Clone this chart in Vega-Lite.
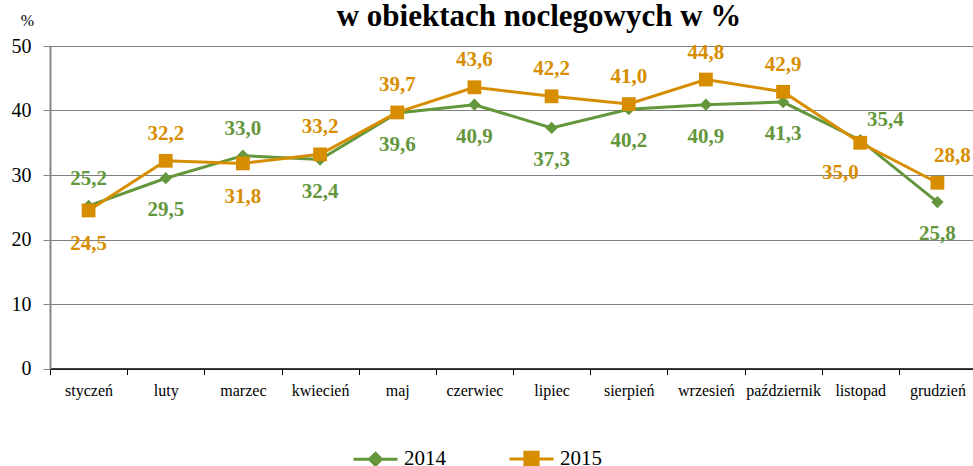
{
  "$schema": "https://vega.github.io/schema/vega-lite/v6.json",
  "autosize": "none",
  "width": 926,
  "height": 322.5,
  "padding": {"left": 50, "top": 46, "right": 0, "bottom": 98},
  "background": "white",
  "config": {
    "locale": {"number": {"decimal": ",", "thousands": " ", "grouping": [3], "currency": ["", " zł"]}},
    "view": {"stroke": null},
    "font": "Liberation Serif, DejaVu Serif, serif"
  },
  "title": {
    "text": "w obiektach noclegowych w %",
    "font": "Liberation Serif, DejaVu Serif, serif",
    "fontSize": 31,
    "fontWeight": "bold",
    "color": "#000000",
    "anchor": "middle",
    "frame": "group",
    "baseline": "alphabetic",
    "dx": 26,
    "offset": -45
  },
  "data": {
    "values": [
      {"month": "styczeń", "year": "2014", "value": 25.2},
      {"month": "luty", "year": "2014", "value": 29.5},
      {"month": "marzec", "year": "2014", "value": 33.0},
      {"month": "kwiecień", "year": "2014", "value": 32.4},
      {"month": "maj", "year": "2014", "value": 39.6},
      {"month": "czerwiec", "year": "2014", "value": 40.9},
      {"month": "lipiec", "year": "2014", "value": 37.3},
      {"month": "sierpień", "year": "2014", "value": 40.2},
      {"month": "wrzesień", "year": "2014", "value": 40.9},
      {"month": "październik", "year": "2014", "value": 41.3},
      {"month": "listopad", "year": "2014", "value": 35.4},
      {"month": "grudzień", "year": "2014", "value": 25.8},
      {"month": "styczeń", "year": "2015", "value": 24.5},
      {"month": "luty", "year": "2015", "value": 32.2},
      {"month": "marzec", "year": "2015", "value": 31.8},
      {"month": "kwiecień", "year": "2015", "value": 33.2},
      {"month": "maj", "year": "2015", "value": 39.7},
      {"month": "czerwiec", "year": "2015", "value": 43.6},
      {"month": "lipiec", "year": "2015", "value": 42.2},
      {"month": "sierpień", "year": "2015", "value": 41.0},
      {"month": "wrzesień", "year": "2015", "value": 44.8},
      {"month": "październik", "year": "2015", "value": 42.9},
      {"month": "listopad", "year": "2015", "value": 35.0},
      {"month": "grudzień", "year": "2015", "value": 28.8}
    ]
  },
  "encoding": {
    "x": {
      "field": "month",
      "type": "nominal",
      "sort": null,
      "bandPosition": 0.5,
      "scale": {"type": "band", "paddingInner": 0, "paddingOuter": 0},
      "axis": {
        "title": null,
        "labelAngle": 0,
        "labelFont": "Liberation Serif, DejaVu Serif, serif",
        "labelFontSize": 16,
        "labelColor": "#000000",
        "labelPadding": 8,
        "domainColor": "#000000",
        "domainWidth": 1.5,
        "tickColor": "#000000",
        "tickSize": 6,
        "tickBand": "extent",
        "ticks": true,
        "grid": false
      }
    },
    "y": {
      "field": "value",
      "type": "quantitative",
      "scale": {"domain": [0, 50], "nice": false},
      "axis": {
        "values": [0, 10, 20, 30, 40, 50],
        "title": "%",
        "titleAngle": 0,
        "titleFont": "Liberation Serif, DejaVu Serif, serif",
        "titleFontSize": 16,
        "titleFontWeight": "normal",
        "titleColor": "#000000",
        "titleX": -23,
        "titleY": -26,
        "titleAlign": "center",
        "titleBaseline": "middle",
        "labelFont": "Liberation Serif, DejaVu Serif, serif",
        "labelFontSize": 20,
        "labelColor": "#000000",
        "labelPadding": 12,
        "domainColor": "#868686",
        "domainWidth": 2,
        "tickColor": "#868686",
        "tickSize": 7,
        "grid": true,
        "gridColor": "#000000",
        "gridDash": [1, 1],
        "gridWidth": 1
      }
    },
    "color": {
      "field": "year",
      "type": "nominal",
      "scale": {"domain": ["2014", "2015"], "range": ["#64963C", "#D68E00"]},
      "legend": {
        "title": null,
        "orient": "none",
        "direction": "horizontal",
        "legendX": 302,
        "legendY": 389,
        "padding": 0,
        "symbolSize": 1936,
        "labelOffset": 5,
        "columnPadding": 57,
        "labelFont": "Liberation Serif, DejaVu Serif, serif",
        "labelFontSize": 21,
        "labelColor": "#000000",
        "encode": {
          "symbols": {
            "update": {
              "shape": {"signal": "datum.value == '2014' ? 'M-1,0L1,0M0,-0.27L0.27,0L0,0.27L-0.27,0Z' : 'M-1,0L1,0M-0.3,-0.3L0.3,-0.3L0.3,0.3L-0.3,0.3Z'"},
              "fill": {"signal": "scale('color', datum.value)"},
              "stroke": {"signal": "scale('color', datum.value)"},
              "strokeWidth": {"value": 3},
              "opacity": {"value": 1}
            }
          }
        }
      }
    }
  },
  "layer": [
    {"mark": {"type": "line", "strokeWidth": 3}},
    {
      "transform": [{"filter": "datum.year == '2014'"}],
      "mark": {"type": "point", "shape": "diamond", "filled": true, "size": 150, "opacity": 1}
    },
    {
      "transform": [{"filter": "datum.year == '2015'"}],
      "mark": {"type": "point", "shape": "square", "filled": true, "size": 190, "opacity": 1}
    },
    {
      "transform": [{"filter": "datum.year == '2014' && indexof(['styczeń','marzec'], datum.month) >= 0"}],
      "mark": {"type": "text", "dy": -27, "fontSize": 21, "fontWeight": "bold", "font": "Liberation Serif, DejaVu Serif, serif", "baseline": "middle"},
      "encoding": {"text": {"field": "value", "type": "quantitative", "format": ".1f"}}
    },
    {
      "transform": [{"filter": "datum.year == '2014' && indexof(['styczeń','marzec','listopad'], datum.month) < 0"}],
      "mark": {"type": "text", "dy": 32, "fontSize": 21, "fontWeight": "bold", "font": "Liberation Serif, DejaVu Serif, serif", "baseline": "middle"},
      "encoding": {"text": {"field": "value", "type": "quantitative", "format": ".1f"}}
    },
    {
      "transform": [{"filter": "datum.year == '2014' && datum.month == 'listopad'"}],
      "mark": {"type": "text", "dx": 25, "dy": -20, "fontSize": 21, "fontWeight": "bold", "font": "Liberation Serif, DejaVu Serif, serif", "baseline": "middle"},
      "encoding": {"text": {"field": "value", "type": "quantitative", "format": ".1f"}}
    },
    {
      "transform": [{"filter": "datum.year == '2015' && indexof(['styczeń','marzec'], datum.month) >= 0"}],
      "mark": {"type": "text", "dy": 34, "fontSize": 21, "fontWeight": "bold", "font": "Liberation Serif, DejaVu Serif, serif", "baseline": "middle"},
      "encoding": {"text": {"field": "value", "type": "quantitative", "format": ".1f"}}
    },
    {
      "transform": [{"filter": "datum.year == '2015' && indexof(['styczeń','marzec','listopad','grudzień'], datum.month) < 0"}],
      "mark": {"type": "text", "dy": -27, "fontSize": 21, "fontWeight": "bold", "font": "Liberation Serif, DejaVu Serif, serif", "baseline": "middle"},
      "encoding": {"text": {"field": "value", "type": "quantitative", "format": ".1f"}}
    },
    {
      "transform": [{"filter": "datum.year == '2015' && datum.month == 'listopad'"}],
      "mark": {"type": "text", "dx": -20, "dy": 30, "fontSize": 21, "fontWeight": "bold", "font": "Liberation Serif, DejaVu Serif, serif", "baseline": "middle"},
      "encoding": {"text": {"field": "value", "type": "quantitative", "format": ".1f"}}
    },
    {
      "transform": [{"filter": "datum.year == '2015' && datum.month == 'grudzień'"}],
      "mark": {"type": "text", "dx": 15, "dy": -27, "fontSize": 21, "fontWeight": "bold", "font": "Liberation Serif, DejaVu Serif, serif", "baseline": "middle"},
      "encoding": {"text": {"field": "value", "type": "quantitative", "format": ".1f"}}
    }
  ]
}
